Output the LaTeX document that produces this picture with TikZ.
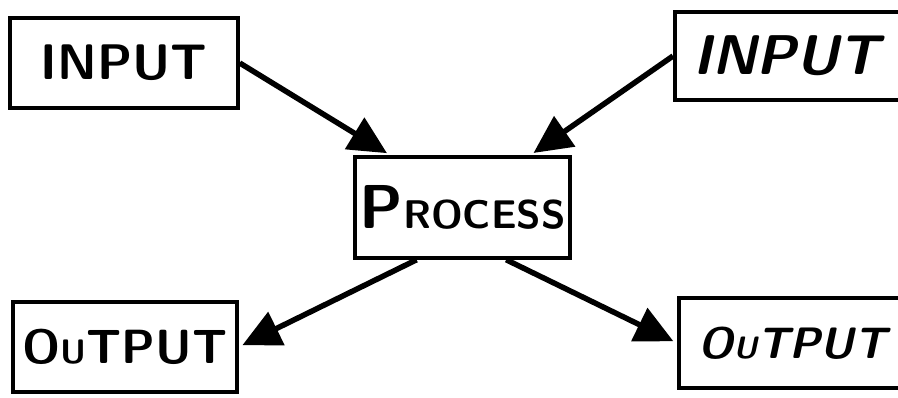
\documentclass[tikz,border=0pt]{standalone}
\usetikzlibrary{calc,arrows.meta}
\begin{document}
\begin{tikzpicture}[x=1pt,y=-1pt,
  box/.style={draw,line width=3.5pt,inner sep=0pt,font=\sffamily\bfseries\fontsize{50}{50}\selectfont},
  edgebox/.style={box,anchor=west,text width=230pt,align=left,font=\sffamily\bfseries\slshape\fontsize{#1}{#1}\selectfont},
  flow/.style={line width=5.5pt,-{Triangle[length=38pt,width=36pt]},shorten >=4pt}]
\useasboundingbox (0,0) rectangle (898,397);
\clip (0,0) rectangle (898,397);
\node[box,minimum width=228pt,minimum height=90pt] (inL) at (124,63) {INPUT};
\node[edgebox=56,inner xsep=19pt,minimum height=88pt] (inR) at (673,56) {INPUT};
\node[box,minimum width=215pt,minimum height=101pt] (proc) at (462.5,207.5) {{\fontsize{62}{62}\selectfont P}{\fontsize{40}{40}\selectfont ROCESS}};
\node[box,minimum width=224pt,minimum height=90pt,font=\sffamily\bfseries\fontsize{48}{48}\selectfont] (outL) at (125,347) {O{\fontsize{34}{34}\selectfont U}TPUT};
\node[edgebox=44,inner xsep=20pt,minimum height=90pt] (outR) at (677,343) {O{\fontsize{31}{31}\selectfont U}TPUT};
\draw[flow] (inL.east) -- ($(proc.north west)!0.17!(proc.north east)$);
\draw[flow] (inR.west) -- ($(proc.north west)!0.81!(proc.north east)$);
\draw[flow] ($(proc.south west)!0.29!(proc.south east)$) -- (outL.east);
\draw[flow] ($(proc.south west)!0.70!(proc.south east)$) -- (outR.west);
\end{tikzpicture}
\end{document}
